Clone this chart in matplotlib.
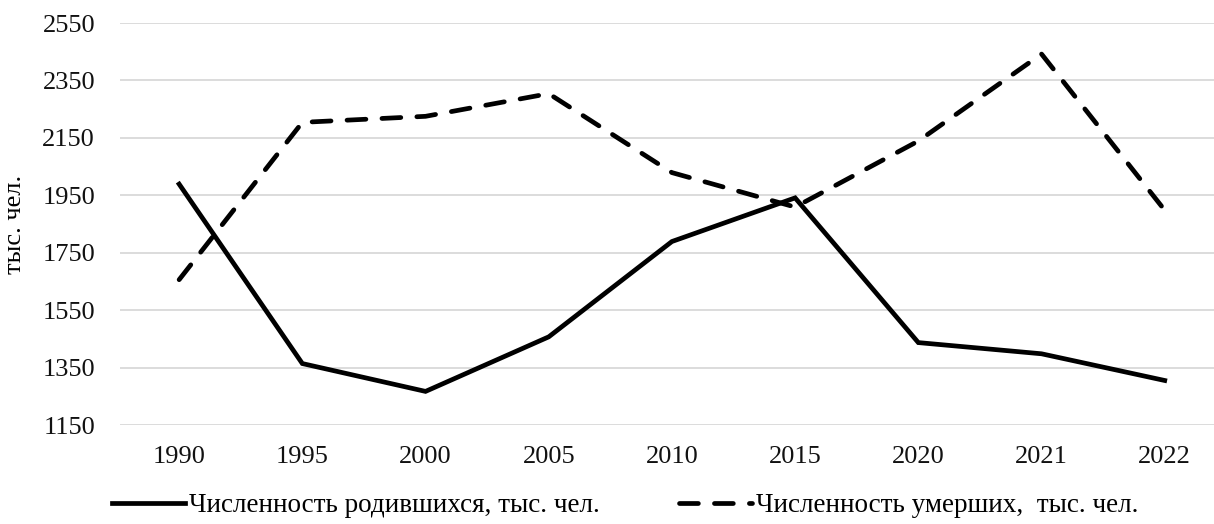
import numpy as np
import matplotlib.pyplot as plt

years = ['1990', '1995', '2000', '2005', '2010', '2015', '2020', '2021', '2022']
births = [1989, 1364, 1267, 1457, 1789, 1941, 1437, 1398, 1305]
deaths = [1656, 2204, 2225, 2304, 2029, 1909, 2139, 2442, 1898]

plt.rcParams['font.family'] = ['Liberation Serif', 'DejaVu Serif']

fig = plt.figure(figsize=(12.14, 5.24), dpi=100)
ax = fig.add_axes([120 / 1214, 1 - 425 / 524, 1094 / 1214, 402 / 524])

x = np.arange(len(years))
ax.plot(x, births, color='black', lw=3.4, solid_joinstyle='miter',
        label='Численность родившихся, тыс. чел.')
ax.plot(x, deaths, color='black', lw=3.4, dashes=(4, 3.4), dash_capstyle='round',
        label='Численность умерших,  тыс. чел.')

ax.set_ylim(1150, 2550)
ax.set_yticks(np.arange(1150, 2551, 200))
ax.set_xlim(-0.48, 8.40)
ax.set_xticks(x)
ax.set_xticklabels(years)
ax.grid(axis='y', color='#d9d9d9', lw=1.3)
ax.set_axisbelow(True)
for s in ax.spines.values():
    s.set_visible(False)
ax.tick_params(length=0, labelsize=19, colors='#111111', pad=15)
ax.tick_params(axis='y', pad=18)
ax.set_ylabel('тыс. чел.', fontsize=19, labelpad=12)

fig.legend(loc='lower center', bbox_to_anchor=(0.515, -0.036), ncol=2, frameon=False,
           fontsize=19.5, handlelength=2.7, handletextpad=0.15, columnspacing=2.9)

fig.savefig('out.png', dpi=100)
